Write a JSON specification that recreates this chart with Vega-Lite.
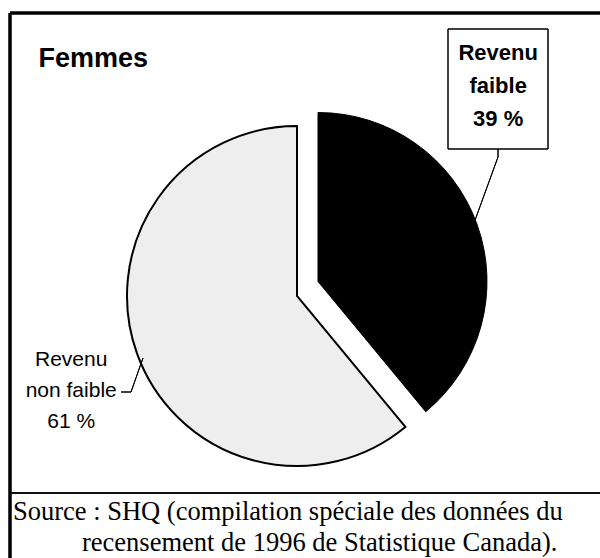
{
  "$schema": "https://vega.github.io/schema/vega-lite/v6.json",
  "autosize": {"type": "none"},
  "width": 590,
  "height": 545,
  "padding": {"left": 10, "top": 13, "right": 0, "bottom": 0},
  "background": "white",
  "config": {"view": {"stroke": null}},
  "title": {
    "text": "Femmes",
    "anchor": "start",
    "orient": "top",
    "offset": -82,
    "dx": 30,
    "baseline": "alphabetic",
    "font": "Liberation Sans",
    "fontSize": 27,
    "fontWeight": "bold",
    "color": "black"
  },
  "datasets": {
    "revenu": [
      {"categorie": "Revenu faible", "pct": 39, "etiquette": ["Revenu", "faible", "39 %"]},
      {"categorie": "Revenu non faible", "pct": 61, "etiquette": ["Revenu", "non faible", "61 %"]}
    ],
    "source1": [
      {"texte": "Source : SHQ (compilation spéciale des données du"}
    ],
    "source2": [
      {"texte": "recensement de 1996 de Statistique Canada)."}
    ]
  },
  "data": {"name": "revenu"},
  "layer": [
    {
      "mark": {"type": "rule", "stroke": "black", "strokeWidth": 3},
      "encoding": {"y": {"value": 0}}
    },
    {
      "mark": {"type": "rule", "stroke": "black", "strokeWidth": 3},
      "encoding": {"x": {"value": 0}}
    },
    {
      "mark": {"type": "rule", "stroke": "black", "strokeWidth": 1.5},
      "encoding": {"y": {"value": 480}}
    },
    {
      "mark": {"type": "arc", "outerRadius": 170, "xOffset": -8, "yOffset": 10.5, "strokeWidth": 2, "strokeJoin": "miter"},
      "encoding": {
        "theta": {"field": "pct", "type": "quantitative", "stack": true, "scale": {"domain": [0, 100]}},
        "order": {"field": "pct", "sort": "ascending"},
        "fill": {"condition": {"test": "datum.categorie === 'Revenu non faible'", "value": "#eeeeee"}, "value": "transparent"},
        "stroke": {"condition": {"test": "datum.categorie === 'Revenu non faible'", "value": "black"}, "value": "transparent"}
      }
    },
    {
      "mark": {"type": "arc", "outerRadius": 169, "xOffset": 13, "yOffset": -4, "strokeWidth": 1},
      "encoding": {
        "theta": {"field": "pct", "type": "quantitative", "stack": true, "scale": {"domain": [0, 100]}},
        "order": {"field": "pct", "sort": "ascending"},
        "fill": {"condition": {"test": "datum.categorie === 'Revenu faible'", "value": "black"}, "value": "transparent"},
        "stroke": {"condition": {"test": "datum.categorie === 'Revenu faible'", "value": "black"}, "value": "transparent"}
      }
    },
    {
      "mark": {"type": "text", "radius": 240, "dx": -8, "dy": -7, "align": "center", "baseline": "middle", "font": "Liberation Sans", "fontSize": 21, "lineHeight": 31, "color": "black"},
      "encoding": {
        "theta": {"field": "pct", "type": "quantitative", "stack": true, "scale": {"domain": [0, 100]}},
        "order": {"field": "pct", "sort": "ascending"},
        "text": {"condition": {"test": "datum.categorie === 'Revenu non faible'", "field": "etiquette"}, "value": ""}
      }
    },
    {
      "mark": {"type": "text", "radius": 200, "dx": 5, "dy": -165, "align": "center", "baseline": "middle", "font": "Liberation Sans", "fontSize": 22, "fontWeight": "bold", "lineHeight": 33, "color": "black"},
      "encoding": {
        "theta": {"field": "pct", "type": "quantitative", "stack": true, "scale": {"domain": [0, 100]}},
        "order": {"field": "pct", "sort": "ascending"},
        "text": {"condition": {"test": "datum.categorie === 'Revenu faible'", "field": "etiquette"}, "value": ""}
      }
    },
    {
      "mark": {"type": "rect", "fill": "transparent", "stroke": "black", "strokeWidth": 1},
      "encoding": {"x": {"value": 438}, "x2": {"value": 538}, "y": {"value": 16}, "y2": {"value": 136}}
    },
    {
      "mark": {"type": "rule", "stroke": "black", "strokeWidth": 1},
      "encoding": {"x": {"value": 488}, "x2": {"value": 488}, "y": {"value": 136}, "y2": {"value": 144}}
    },
    {
      "mark": {"type": "rule", "stroke": "black", "strokeWidth": 1},
      "encoding": {"x": {"value": 488}, "x2": {"value": 464}, "y": {"value": 144}, "y2": {"value": 210}}
    },
    {
      "mark": {"type": "rule", "stroke": "black", "strokeWidth": 1},
      "encoding": {"x": {"value": 111}, "x2": {"value": 121}, "y": {"value": 379}, "y2": {"value": 379}}
    },
    {
      "mark": {"type": "rule", "stroke": "black", "strokeWidth": 1},
      "encoding": {"x": {"value": 121}, "x2": {"value": 133}, "y": {"value": 379}, "y2": {"value": 345}}
    },
    {
      "data": {"name": "source1"},
      "mark": {"type": "text", "align": "left", "baseline": "alphabetic", "font": "Liberation Serif", "fontSize": 26.5, "color": "black"},
      "encoding": {
        "x": {"value": 3},
        "y": {"value": 507},
        "text": {"field": "texte"}
      }
    },
    {
      "data": {"name": "source2"},
      "mark": {"type": "text", "align": "left", "baseline": "alphabetic", "font": "Liberation Serif", "fontSize": 26.5, "color": "black"},
      "encoding": {
        "x": {"value": 72},
        "y": {"value": 538},
        "text": {"field": "texte"}
      }
    }
  ]
}
